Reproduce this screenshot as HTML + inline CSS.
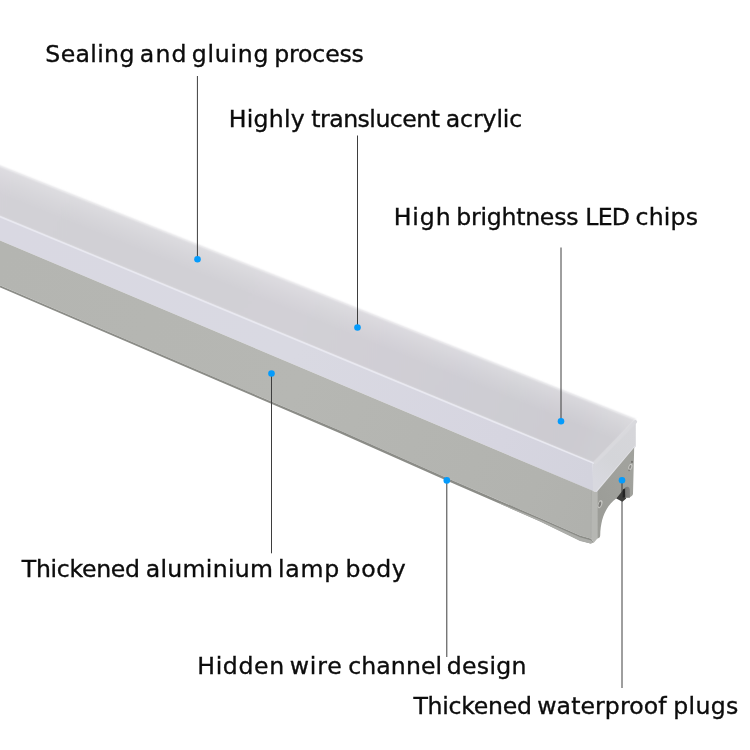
<!DOCTYPE html>
<html lang="en">
<head>
<meta charset="utf-8">
<title>Linear LED lamp features</title>
<style>
html,body{margin:0;padding:0;background:#fff;}
body{width:750px;height:750px;overflow:hidden;position:relative;font-family:"DejaVu Sans","Liberation Sans",sans-serif;}
svg{position:absolute;left:0;top:0;display:block;}
.lbl{font-family:"DejaVu Sans","Liberation Sans",sans-serif;font-size:23.6px;fill:#0c0c0c;stroke:#0c0c0c;stroke-width:0.35px;}
</style>
</head>
<body>
<svg width="750" height="750" viewBox="0 0 750 750">
<defs>
  <linearGradient id="gTop" gradientUnits="userSpaceOnUse" x1="0" y1="190" x2="620" y2="440">
    <stop offset="0" stop-color="#d3d1d7"/>
    <stop offset="0.16" stop-color="#d1d0d5"/>
    <stop offset="0.48" stop-color="#d2d0d6"/>
    <stop offset="0.8" stop-color="#cecdd3"/>
    <stop offset="0.93" stop-color="#cccbd1"/>
    <stop offset="1" stop-color="#cfced3"/>
  </linearGradient>
  <linearGradient id="gFront" gradientUnits="userSpaceOnUse" x1="0" y1="228" x2="592" y2="476">
    <stop offset="0" stop-color="#d9d8e2"/>
    <stop offset="0.5" stop-color="#d9d9e2"/>
    <stop offset="0.85" stop-color="#d6d5e0"/>
    <stop offset="1" stop-color="#d3d3dd"/>
  </linearGradient>
  <linearGradient id="gEnd" gradientUnits="userSpaceOnUse" x1="594" y1="480" x2="636" y2="432">
    <stop offset="0" stop-color="#d8d8df"/>
    <stop offset="0.4" stop-color="#d4d5d9"/>
    <stop offset="1" stop-color="#d6d6da"/>
  </linearGradient>
  <linearGradient id="gAlu" gradientUnits="userSpaceOnUse" x1="0" y1="262" x2="592" y2="514">
    <stop offset="0" stop-color="#b4b5b1"/>
    <stop offset="0.5" stop-color="#b6b7b3"/>
    <stop offset="0.9" stop-color="#b2b3af"/>
    <stop offset="1" stop-color="#b0b1ad"/>
  </linearGradient>
  <linearGradient id="gCap" gradientUnits="userSpaceOnUse" x1="598" y1="500" x2="633" y2="480">
    <stop offset="0" stop-color="#9c9d98"/>
    <stop offset="1" stop-color="#a1a29d"/>
  </linearGradient>
  <linearGradient id="gLip" gradientUnits="userSpaceOnUse" x1="0" y1="0" x2="592" y2="0">
    <stop offset="0" stop-color="#8c8d88"/>
    <stop offset="1" stop-color="#8b8c87"/>
  </linearGradient>
  <linearGradient id="gSlot" gradientUnits="userSpaceOnUse" x1="624" y1="0" x2="630" y2="0">
    <stop offset="0" stop-color="#5e5e5c"/>
    <stop offset="0.4" stop-color="#7c7c7a"/>
    <stop offset="1" stop-color="#868684"/>
  </linearGradient>
  <linearGradient id="gTopL" gradientUnits="userSpaceOnUse" x1="318" y1="293" x2="302" y2="333">
    <stop offset="0" stop-color="#ffffff" stop-opacity="0.26"/>
    <stop offset="0.3" stop-color="#ffffff" stop-opacity="0.12"/>
    <stop offset="0.62" stop-color="#ffffff" stop-opacity="0"/>
    <stop offset="1" stop-color="#ffffff" stop-opacity="0"/>
  </linearGradient>
  <filter id="soft3" x="-5%" y="-5%" width="110%" height="110%"><feGaussianBlur stdDeviation="0.45"/></filter>
  <filter id="soft" x="-5%" y="-5%" width="110%" height="110%"><feGaussianBlur stdDeviation="0.7"/></filter>
  <filter id="soft2" x="-5%" y="-5%" width="110%" height="110%"><feGaussianBlur stdDeviation="0.9"/></filter>
</defs>

<!-- lamp -->
<g id="lamp">
  <!-- diffuser top face -->
  <polygon points="-4,164.4 636,419.7 594,463.4 -4,215" fill="url(#gTop)" filter="url(#soft2)"/>
  <polygon points="-4,164.4 636,419.7 594,463.4 -4,215" fill="url(#gTopL)"/>
  <!-- diffuser end face -->
  <path d="M592.6,462.8 L635.8,419.7 L635.8,446.2 L634,448 L597.6,491.3 Q596.6,492.6 595.2,491.9 L591.7,490 Z" fill="url(#gEnd)" filter="url(#soft)"/>
  <path d="M596.6,491.4 L634,447.6 L635.6,445.8" fill="none" stroke="#e2e2e7" stroke-width="1.2" filter="url(#soft)"/>
  <!-- diffuser front face -->
  <polygon points="-4,215 592.6,462.8 593,490.9 -4,238.8" fill="url(#gFront)"/>
  <line x1="-4" y1="215" x2="594" y2="463.4" stroke="#e9e9f1" stroke-width="1.5" filter="url(#soft3)"/>
  <line x1="595.5" y1="462.4" x2="635.4" y2="421.8" stroke="#d9d9dd" stroke-width="3.4" stroke-linecap="round" filter="url(#soft)"/>
  <!-- aluminium front face -->
  <polygon points="-4,238.8 591.7,490.2 591.3,538.7 580,535.4 540,517.9 447,478 340,430.6 220,379.6 -4,283.6" fill="url(#gAlu)"/>
  <!-- bottom lip -->
  <polygon points="-4,283.6 220,379.6 340,430.6 447,478 540,517.9 580,535.4 591.3,538.7 593.7,542.6 590.5,543.4 580,540.6 540,521.2 447,480.8 340,433.2 220,381.8 -4,285.6" fill="url(#gLip)" filter="url(#soft3)"/>
  <polygon points="540,519.6 580,537.2 591.3,540.4 593.7,542.8 590.5,543.6 580,540.9 540,521.4 500,503.8 500,503" fill="#acada9" filter="url(#soft3)"/>
  <!-- chamfer -->
  <polygon points="591.7,490.2 595.2,491.9 597.2,492 597.2,538.8 594.2,542.2 593.7,542.6 591.3,538.7" fill="#b6b7b3"/>
  <line x1="591.5" y1="490.5" x2="591.3" y2="538.7" stroke="#a5a6a2" stroke-width="0.8"/>
  <!-- end cap -->
  <path d="M597.2,492 L597.2,491.6 L634.2,447.6 L633,493.4 Q633,495.2 631.7,496 L629.9,497.3 L625,497.6 L616.3,498.6 C607,505 600.6,517 600.2,535.4 Q600.2,537.4 598.6,538 L597.2,538.8 Z" fill="url(#gCap)"/>
  <!-- wire slot -->
  <polygon points="616.3,498.5 622.5,490.8 625.4,497.2 626.2,498.6 622.4,501.8" fill="#3c3c3a" filter="url(#soft3)"/>
  <path d="M624.4,497.8 L624.4,490.2 Q624.6,486.7 627.2,486.7 Q629.9,486.9 629.9,490.6 L629.9,497.8 Z" fill="url(#gSlot)"/>
  <path d="M622.3,497.6 L622.3,491 Q622.5,488.8 624.9,488.4 L625.1,497.6 Z" fill="#242424" filter="url(#soft3)"/>
  <!-- screws -->
  <g transform="rotate(18 630.4 466.8)">
    <ellipse cx="630.4" cy="466.8" rx="1.9" ry="3.2" fill="#c9c9c5"/>
    <ellipse cx="630.3" cy="467" rx="1" ry="2" fill="#8a8a86"/>
  </g>
  <ellipse cx="632" cy="461.9" rx="0.9" ry="1.1" fill="#6a6a66"/>
  <ellipse cx="629.1" cy="470.4" rx="0.9" ry="0.8" fill="#7e7e7a"/>
  <g transform="rotate(18 600.1 504.2)">
    <ellipse cx="600.1" cy="504.2" rx="2.1" ry="4.2" fill="#c6c6c2"/>
    <ellipse cx="599.9" cy="504.4" rx="1.2" ry="2.8" fill="#7c7c78"/>
  </g>
</g>

<!-- leader lines -->
<g stroke="#3e3e3e" stroke-width="1" fill="none">
  <line x1="197.42" y1="76" x2="197.42" y2="259"/>
  <line x1="357.5" y1="135.5" x2="357.5" y2="327"/>
  <line x1="561" y1="247.5" x2="561" y2="421"/>
  <line x1="271.5" y1="374" x2="271.5" y2="553.3"/>
  <line x1="446.8" y1="481" x2="446.8" y2="657"/>
  <line x1="622" y1="481" x2="622" y2="688"/>
</g>
<g fill="#049bfc">
  <circle cx="197.5" cy="259.3" r="3.3"/>
  <circle cx="357.5" cy="327.5" r="3.3"/>
  <circle cx="561" cy="421.3" r="3.3"/>
  <circle cx="271.5" cy="373.5" r="3.3"/>
  <circle cx="446.8" cy="480.4" r="3.3"/>
  <circle cx="622" cy="480.3" r="3.3"/>
</g>

<!-- labels -->
<g class="lbl" opacity="0.999">
  <text y="62"><tspan x="45.35" letter-spacing="0.338">Sealing</tspan> <tspan x="139.83" letter-spacing="1.103">and</tspan> <tspan x="191.73" letter-spacing="0.734">gluing</tspan> <tspan x="274.26" letter-spacing="-0.168">process</tspan></text>
  <text y="126.5"><tspan x="228.71" letter-spacing="0.273">Highly</tspan> <tspan x="311.30" letter-spacing="-0.516">translucent</tspan> <tspan x="445.78" letter-spacing="-0.120">acrylic</tspan></text>
  <text y="224.7"><tspan x="393.71" letter-spacing="0.887">High</tspan> <tspan x="456.26" letter-spacing="-0.249">brightness</tspan> <tspan x="585.34" letter-spacing="-0.766">LED</tspan> <tspan x="635.61" letter-spacing="0.141">chips</tspan></text>
  <text y="576.5"><tspan x="21.82" letter-spacing="-0.319">Thickened</tspan> <tspan x="145.83" letter-spacing="0.265">aluminium</tspan> <tspan x="278.12" letter-spacing="0.676">lamp</tspan> <tspan x="345.60" letter-spacing="0.624">body</tspan></text>
  <text y="673.9"><tspan x="197.34" letter-spacing="0.618">Hidden</tspan> <tspan x="289.81" letter-spacing="0.777">wire</tspan> <tspan x="348.30" letter-spacing="0.064">channel</tspan> <tspan x="446.72" letter-spacing="0.291">design</tspan></text>
  <text y="714.1"><tspan x="413.43" letter-spacing="-0.279">Thickened</tspan> <tspan x="537.23" letter-spacing="0.077">waterproof</tspan> <tspan x="673.26" letter-spacing="0.343">plugs</tspan></text>
</g>
</svg>
</body>
</html>
